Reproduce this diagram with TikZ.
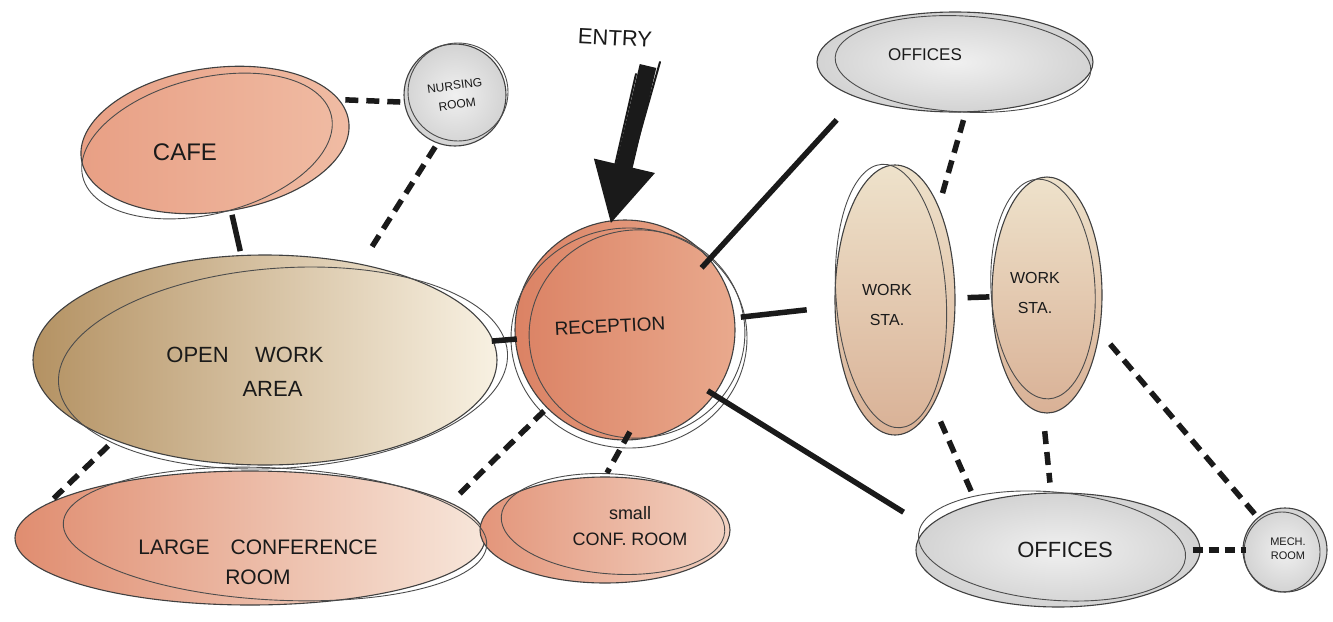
\documentclass[tikz,border=0pt]{standalone}
\usepackage{fontspec}
\setmainfont{Liberation Sans}
\usetikzlibrary{shapes.geometric,arrows.meta}
\definecolor{cafeA}{HTML}{E89F84}
\definecolor{cafeB}{HTML}{F0BCA4}
\definecolor{recA}{HTML}{DB8264}
\definecolor{recB}{HTML}{E9A98D}
\definecolor{khaki}{HTML}{B49263}
\definecolor{cream}{HTML}{F8F1E2}
\definecolor{lcA}{HTML}{E08D70}
\definecolor{lcB}{HTML}{F7E6DA}
\definecolor{scA}{HTML}{E3957A}
\definecolor{scB}{HTML}{F2D2C2}
\definecolor{grA}{HTML}{D3D3D3}
\definecolor{grB}{HTML}{F0F0F0}
\definecolor{wsA}{HTML}{EEE2CB}
\definecolor{wsB}{HTML}{D9B196}
\definecolor{ink}{HTML}{1A1A1A}
\begin{document}
\begin{tikzpicture}[x=1pt,y=-1pt]
\tikzset{
  bub/.style={ellipse, draw=black!75, line width=1.1pt, inner sep=0pt},
  rbub/.style={circle, draw=black!75, line width=1.1pt, inner sep=0pt},
  outl/.style={draw=black!70, line width=0.9pt},
  lbl/.style={text=ink, align=center, inner sep=0pt},
  link/.style={draw=ink, line width=5.5pt, line cap=butt},
  dlink/.style={link, dash pattern=on 13pt off 8pt},
  entryarrow/.style={draw=ink, line width=17pt, -{Triangle[length=60pt,width=58pt]}},
  scribble/.style={draw=ink, line width=2pt, line cap=round}
}
\useasboundingbox[fill=white] (0,0) rectangle (1333,621);

% ---------- bubbles ----------
\node[bub, left color=cafeA, right color=cafeB, minimum width=270pt, minimum height=144pt, rotate=8] (cafe) at (215,140) {};
\node[rbub, inner color=grB, outer color=grA, minimum size=102pt] (nurs) at (455,95) {};
\node[bub, left color=khaki, right color=cream, minimum width=464pt, minimum height=210pt] (open) at (265,360) {};
\node[rbub, left color=recA, right color=recB, minimum size=220pt] (rec) at (625,330) {};
\node[bub, left color=lcA, right color=lcB, minimum width=470pt, minimum height=134pt] (lconf) at (250,538) {};
\node[bub, left color=scA, right color=scB, minimum width=250pt, minimum height=106pt] (sconf) at (605,530) {};
\node[bub, inner color=grB, outer color=grA, minimum width=276pt, minimum height=100pt] (offt) at (955,62) {};
\node[bub, top color=wsA, bottom color=wsB, minimum width=120pt, minimum height=270pt] (ws1) at (895,300) {};
\node[bub, top color=wsA, bottom color=wsB, minimum width=110pt, minimum height=236pt] (ws2) at (1047,295) {};
\node[bub, inner color=grB, outer color=grA, minimum width=284pt, minimum height=114pt] (offb) at (1058,550) {};
\node[rbub, inner color=grB, outer color=grA, minimum size=84pt] (mech) at (1285,550) {};

% ---------- second sketch outlines ----------
\draw[outl] (cafe.center) ++(-8,6) circle[x radius=128, y radius=68, rotate=14];
\draw[outl] (nurs.center) ++(3,-3) circle[x radius=50, y radius=49];
\draw[outl] (open.center) ++(18,8) circle[x radius=225, y radius=100, rotate=4];
\draw[outl] (rec.center) ++(12,4) circle[x radius=108, y radius=104, rotate=10];
\draw[outl] (rec.center) ++(4,8) circle[x radius=118, y radius=110];
\draw[outl] (lconf.center) ++(25,-4) circle[x radius=212, y radius=66, rotate=-3];
\draw[outl] (sconf.center) ++(8,-6) circle[x radius=112, y radius=50, rotate=-4];
\draw[outl] (offt.center) ++(8,2) circle[x radius=128, y radius=48, rotate=-3];
\draw[outl] (ws1.center) ++(-4,-4) circle[x radius=55, y radius=132, rotate=4];
\draw[outl] (ws2.center) ++(-4,-6) circle[x radius=52, y radius=110, rotate=3];
\draw[outl] (offb.center) ++(-6,-4) circle[x radius=134, y radius=54, rotate=-5];
\draw[outl] (mech.center) ++(-3,2) circle[x radius=38, y radius=40];

% ---------- connectors ----------
\draw[dlink, shorten <=6pt, shorten >=2pt] (cafe.10) -- (nurs.188);
\draw[dlink, shorten <=4pt, shorten >=20pt] (nurs.250) -- (open.45);
\draw[link, shorten <=4pt, shorten >=4pt] (cafe) -- (open);
\draw[link, shorten <=-2pt, shorten >=-2pt] (open) -- (rec);
\draw[dlink, shorten <=8pt, shorten >=6pt] (open.208) -- (lconf.170);
\draw[dlink, shorten <=4pt, shorten >=6pt] (rec.225) -- (lconf.10);
\draw[dlink, shorten <=-10pt, shorten >=4pt] (rec.-90) -- (sconf.90);
\draw[link, shorten <=-12pt, shorten >=30pt] (rec.40) -- (offt.200);
\draw[dlink, shorten <=8pt, shorten >=8pt] (offt.-78) -- (ws1.65);
\draw[link, shorten <=6pt, shorten >=28pt] (rec) -- (ws1);
\draw[link, shorten <=12pt, shorten >=2pt] (ws1) -- (ws2);
\draw[link, shorten <=-8pt, shorten >=28pt] (rec.-36) -- (offb.170);
\draw[dlink, shorten <=18pt, shorten >=6pt] (ws1.-70) -- (offb.150);
\draw[dlink, shorten <=18pt, shorten >=10pt] (ws2.-92) -- (offb.97);
\draw[dlink, shorten <=16pt, shorten >=4pt] (ws2.-35) -- (mech.130);
\draw[dlink, dash pattern=on 10pt off 6pt, shorten <=-8pt, shorten >=-4pt] (offb) -- (mech);

% ---------- entry ----------
\node[lbl, font=\fontsize{22}{24}\selectfont, rotate=-3] (entry) at (615,38) {ENTRY};
\coordinate (etail) at (648,66);
\draw[entryarrow, shorten >=-4pt] (etail) -- (rec.97);
\draw[scribble] (660,62) -- (630,168);
\draw[scribble] (636,74) -- (614,170);

% ---------- labels ----------
\node[lbl, font=\fontsize{24}{26}\selectfont] (cafeT) at (185,152) {CAFE};
\node[lbl, font=\fontsize{12}{19}\selectfont, rotate=8] (nursT) at (456,95) {NURSING\\ROOM};
\node[lbl, font=\fontsize{17}{20}\selectfont] (offtT) at (925,55) {OFFICES};
\node[lbl, font=\fontsize{19}{22}\selectfont, rotate=3] (recT) at (610,326) {RECEPTION};
\node[lbl, font=\fontsize{22}{34}\selectfont] (openT) at (245,372) {OPEN\hspace{1.2em}WORK\\\hspace{2.5em}AREA};
\node[lbl, font=\fontsize{16}{30}\selectfont] (ws1T) at (887,305) {WORK\\STA.};
\node[lbl, font=\fontsize{16}{30}\selectfont] (ws2T) at (1035,293) {WORK\\STA.};
\node[lbl, font=\fontsize{21}{30}\selectfont] (lconfT) at (258,562) {LARGE\hspace{1em}CONFERENCE\\ROOM\hspace{3em}};
\node[lbl, font=\fontsize{18}{26}\selectfont] (sconfT) at (630,526) {small\hspace{4em}\\CONF. ROOM};
\node[lbl, font=\fontsize{22}{24}\selectfont] (offbT) at (1065,550) {OFFICES};
\node[lbl, font=\fontsize{11}{14}\selectfont] (mechT) at (1288,549) {MECH.\\ROOM};
\end{tikzpicture}
\end{document}
